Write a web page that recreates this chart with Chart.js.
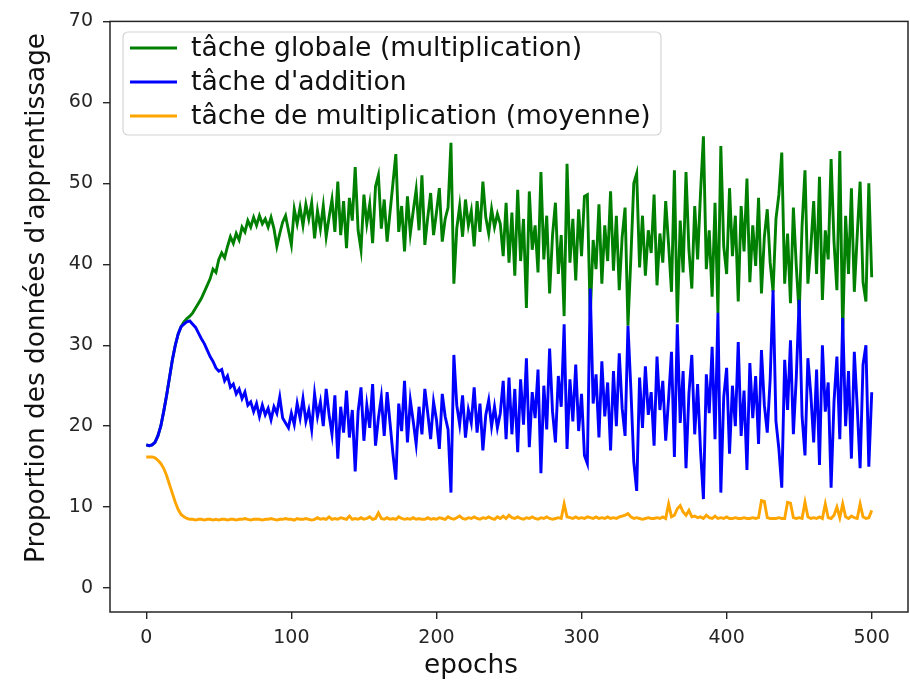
<!DOCTYPE html>
<html>
<head>
<meta charset="utf-8">
<script src="https://cdn.jsdelivr.net/npm/chart.js@4/dist/chart.umd.min.js"></script>
<style>
  html, body { margin: 0; padding: 0; background: #fff; }
  canvas { display: block; }
</style>
</head>
<body>
<canvas id="courbes" width="910" height="683"></canvas>
<script>
// une valeur toutes les 2 epochs, de 0 a 500
const EPOCH_STEP = 2;
const xTicks = [0, 100, 200, 300, 400, 500];
const yTicks = [0, 10, 20, 30, 40, 50, 60, 70];
const labels = [
  "tâche globale (multiplication)",
  "tâche d'addition",
  "tâche de multiplication (moyenne)"
];

const globale = [
  17.7, 17.6, 17.7, 18.0, 18.8, 20.0, 21.8, 23.8, 26.0, 28.2,
  30.0, 31.4, 32.3, 32.9, 33.3, 33.6, 34.0, 34.6, 35.2, 35.8,
  36.6, 37.4, 38.2, 39.4, 39.0, 40.6, 41.4, 40.8, 42.2, 43.4,
  42.6, 43.8, 43.0, 44.6, 44.0, 45.4, 44.6, 45.8, 44.8, 46.0,
  45.0, 45.6, 44.6, 45.8, 44.4, 42.2, 43.8, 45.2, 46.0, 44.2,
  42.4, 46.8, 45.0, 47.0, 44.8, 47.4, 45.6, 47.6, 43.2, 46.6,
  44.4, 47.2, 43.4, 45.8, 48.0, 44.0, 50.2, 43.6, 47.8, 42.0,
  48.2, 45.4, 52.0, 44.2, 41.8, 48.6, 45.0, 47.4, 42.6, 49.6,
  51.0, 44.4, 48.0, 42.8, 46.4, 50.0, 53.6, 44.0, 47.2, 41.6,
  48.4, 43.8, 46.6, 49.2, 44.2, 51.0, 42.4, 45.8, 48.8, 43.6,
  46.4, 49.4, 42.8, 45.6, 47.0, 55.0, 37.6, 44.4, 47.2, 43.4,
  48.0, 44.8, 46.6, 42.2, 47.8, 44.0, 50.2, 45.8, 43.8, 46.8,
  44.6, 46.2, 45.0, 41.0, 47.6, 40.2, 46.4, 38.6, 49.2, 40.4,
  45.6, 34.6, 49.0, 41.8, 44.8, 39.0, 51.4, 40.6, 46.0, 36.4,
  43.6, 47.6, 38.8, 43.6, 33.6, 52.4, 40.2, 45.6, 38.0, 46.8,
  41.0, 48.4, 48.6, 33.6, 43.0, 39.4, 47.4, 37.6, 44.8, 40.4,
  49.0, 39.2, 46.0, 36.8, 43.4, 47.0, 32.4, 40.8, 50.0, 51.2,
  39.6, 46.0, 38.6, 44.2, 41.4, 48.6, 37.4, 43.8, 40.2, 47.8,
  42.4, 36.6, 51.6, 32.8, 45.4, 39.0, 51.4, 41.8, 37.0, 47.2,
  40.6, 48.8, 55.8, 39.4, 44.2, 36.0, 47.6, 34.0, 54.6, 42.2,
  38.8, 49.4, 41.0, 46.0, 35.4, 47.2, 41.6, 50.6, 37.8, 44.8,
  39.8, 48.2, 36.4, 43.4, 46.8, 40.2, 36.6, 45.6, 48.6, 53.8,
  37.6, 43.8, 35.2, 47.0, 39.8, 33.8, 44.8, 51.6, 37.6, 42.0,
  47.8, 38.8, 50.8, 35.6, 44.2, 40.6, 53.0, 42.8, 36.8, 54.0,
  31.4, 46.0, 38.8, 49.4, 36.6, 43.6, 50.2, 37.8, 35.4, 50.0,
  38.4
];

const addition = [
  17.7, 17.6, 17.7, 18.0, 18.8, 20.0, 21.8, 23.8, 26.0, 28.2,
  30.0, 31.4, 32.3, 32.6, 32.9, 33.0, 32.6, 32.2, 31.5, 30.8,
  30.2, 29.4, 28.6, 28.0, 27.2, 26.8, 27.0, 25.6, 26.2, 24.8,
  25.2, 24.0, 24.6, 23.4, 24.2, 22.6, 23.0, 21.8, 22.8, 21.2,
  22.6, 21.4, 22.2, 20.8, 22.4, 21.6, 23.6, 21.0, 20.4, 19.8,
  21.6, 20.2, 22.8, 21.0, 23.4, 20.6, 22.0, 19.6, 24.0, 21.2,
  23.0, 20.0, 24.6, 21.4, 19.0, 23.8, 16.0, 22.4, 19.2, 24.4,
  18.6, 22.0, 14.4, 21.8, 24.8, 18.2, 22.6, 19.8, 25.2, 17.6,
  21.0, 23.6, 18.8, 24.2, 20.4, 16.6, 13.4, 22.8, 19.4, 25.6,
  18.0, 23.2, 20.6, 17.8, 22.4, 19.0, 24.6, 21.6, 18.4, 23.0,
  20.8, 17.2, 24.0, 21.2, 19.6, 11.8, 28.8, 22.6, 20.2, 23.8,
  18.6, 22.0, 20.4, 24.8, 19.2, 22.8, 17.0, 21.4, 23.2, 20.0,
  22.4, 19.8, 21.6, 25.6, 18.4, 26.0, 19.0, 24.6, 16.8, 25.8,
  20.2, 28.4, 17.4, 24.2, 21.0, 27.0, 14.2, 25.0, 19.6, 29.6,
  21.8, 18.0, 26.2, 22.4, 32.6, 17.2, 25.8, 20.6, 27.6, 19.4,
  24.0, 16.4, 15.4, 37.0, 22.8, 26.4, 18.6, 28.0, 21.2, 25.4,
  17.0, 26.8, 20.0, 29.0, 22.2, 18.8, 32.4, 24.6, 15.6, 12.0,
  26.0, 19.8, 27.4, 21.4, 24.2, 17.6, 28.6, 22.0, 25.6, 18.2,
  23.4, 29.2, 16.2, 32.6, 20.4, 26.8, 14.8, 24.0, 28.8, 19.0,
  25.2, 17.0, 11.0, 26.4, 21.6, 29.8, 18.4, 34.0, 11.8, 23.6,
  27.2, 16.6, 25.0, 20.0, 30.4, 18.8, 24.4, 14.6, 27.8, 21.0,
  26.2, 17.8, 29.4, 22.6, 19.2, 25.8, 36.8, 20.6, 17.2, 12.4,
  28.2, 22.0, 30.6, 19.0, 26.0, 35.6, 21.2, 16.4, 28.4, 24.0,
  18.0, 27.0, 15.2, 30.0, 21.8, 25.4, 12.4, 23.0, 28.6, 18.4,
  33.4, 20.0, 26.8, 16.0, 29.2, 22.4, 14.8, 27.6, 30.0, 15.0,
  24.2
];

const multMoyenne = [
  16.2, 16.2, 16.2, 16.1, 15.8, 15.4, 14.8, 13.9, 12.8, 11.7,
  10.6, 9.7, 9.1, 8.8, 8.6, 8.5, 8.5, 8.4, 8.5, 8.5,
  8.4, 8.5, 8.5, 8.4, 8.5, 8.4, 8.5, 8.5, 8.4, 8.5,
  8.5, 8.4, 8.5, 8.5, 8.6, 8.5, 8.4, 8.5, 8.5, 8.5,
  8.4, 8.5, 8.5, 8.6, 8.5, 8.4, 8.5, 8.5, 8.6, 8.5,
  8.5, 8.4, 8.6, 8.5, 8.5, 8.6, 8.5, 8.4, 8.5, 8.7,
  8.5, 8.6, 8.5, 8.8, 8.5, 8.6, 8.5, 8.7, 8.6, 8.5,
  8.9, 8.5, 8.6, 8.5, 8.7, 8.5, 8.6, 8.8, 8.5, 8.6,
  9.3, 8.6, 8.5, 8.7, 8.5, 8.6, 8.5, 8.8, 8.6, 8.5,
  8.6, 8.5, 8.7, 8.5, 8.6, 8.5, 8.5, 8.7, 8.5, 8.6,
  8.5, 8.7, 8.6, 8.5, 8.8, 8.6, 8.5, 8.7, 8.9, 8.6,
  8.5, 8.7, 8.6, 8.8, 8.6, 8.5, 8.7, 8.6, 8.8, 8.6,
  8.5, 8.8, 8.6, 8.9, 8.6, 9.0, 8.7, 8.6, 8.8, 8.6,
  8.5, 8.7, 8.6, 8.8, 8.6, 8.5, 8.7, 8.6, 8.8, 8.6,
  8.5, 8.6, 8.7, 8.6, 10.4, 8.8, 8.7, 8.6, 8.8, 8.6,
  8.7, 8.6, 8.8, 8.7, 8.6, 8.8, 8.6, 8.7, 8.6, 8.8,
  8.6, 8.7, 8.6, 8.8, 8.9, 9.0, 9.2, 8.8, 8.6, 8.7,
  8.6, 8.5, 8.6, 8.7, 8.6, 8.6, 8.7, 8.6, 8.8, 8.6,
  10.4, 8.8, 9.0, 9.8, 10.2, 9.4, 9.0, 9.6, 8.8, 8.9,
  8.7, 8.8, 8.6, 9.0, 8.7, 8.6, 8.9, 8.6, 8.7, 8.6,
  8.8, 8.6, 8.6, 8.7, 8.6, 8.6, 8.7, 8.6, 8.6, 8.7,
  8.6, 8.7, 10.8, 10.7, 8.7, 8.6, 8.6, 8.6, 8.7, 8.6,
  8.6, 10.6, 10.5, 8.7, 8.6, 8.7, 8.6, 10.6, 8.8, 8.6,
  8.7, 8.6, 8.8, 8.6, 10.4, 8.7, 8.6, 9.0, 10.0, 8.7,
  10.4, 8.8, 8.6, 8.9, 8.7, 8.6, 10.4, 8.8, 8.6, 8.7,
  9.6
];

const colors = ["#008000", "#0000ff", "#ffa500"];
const FONT = "DejaVu Sans";
const INK = "#262626";

function points(values) {
  return values.map((v, i) => ({ x: i * EPOCH_STEP, y: v }));
}

// cadre autour de la zone de tracé
const framePlugin = {
  id: "frame",
  afterDatasetsDraw(chart) {
    const { ctx, chartArea: a } = chart;
    ctx.save();
    ctx.strokeStyle = INK;
    ctx.lineWidth = 1.5;
    ctx.strokeRect(a.left, a.top, a.right - a.left, a.bottom - a.top);
    ctx.restore();
  }
};

// légende dans le coin haut gauche + titres des axes
const annotPlugin = {
  id: "annot",
  afterDraw(chart) {
    const { ctx } = chart;
    ctx.save();
    // boite de légende
    const bx = 123, by = 32, bw = 538, bh = 103, r = 5;
    ctx.beginPath();
    ctx.moveTo(bx + r, by);
    ctx.arcTo(bx + bw, by, bx + bw, by + bh, r);
    ctx.arcTo(bx + bw, by + bh, bx, by + bh, r);
    ctx.arcTo(bx, by + bh, bx, by, r);
    ctx.arcTo(bx, by, bx + bw, by, r);
    ctx.closePath();
    ctx.fillStyle = "rgba(255,255,255,0.8)";
    ctx.fill();
    ctx.strokeStyle = "#d4d4d4";
    ctx.lineWidth = 1.2;
    ctx.stroke();

    ctx.font = "26.6px '" + FONT + "'";
    ctx.textBaseline = "middle";
    ctx.textAlign = "left";
    labels.forEach((lab, i) => {
      const y = 48 + i * 34;
      ctx.strokeStyle = colors[i];
      ctx.lineWidth = 3;
      ctx.beginPath();
      ctx.moveTo(130, y);
      ctx.lineTo(177, y);
      ctx.stroke();
      ctx.fillStyle = "#111";
      ctx.fillText(lab, 191, y + 1);
    });

    // titres des axes
    ctx.font = "26.3px '" + FONT + "'";
    ctx.fillStyle = "#111";
    ctx.textAlign = "center";
    ctx.textBaseline = "alphabetic";
    ctx.fillText("epochs", 471, 673);
    ctx.translate(44, 298);
    ctx.rotate(-Math.PI / 2);
    ctx.fillText("Proportion des données d'apprentissage", 0, 0);
    ctx.restore();
  }
};

const series = [globale, addition, multMoyenne];

new Chart(document.getElementById("courbes"), {
  type: "line",
  data: {
    datasets: series.map((vals, i) => ({
      label: labels[i],
      data: points(vals),
      borderColor: colors[i],
      borderWidth: 2.9,
      pointRadius: 0,
      tension: 0,
      fill: false,
      order: 3 - i
    }))
  },
  options: {
    responsive: false,
    animation: false,
    devicePixelRatio: 1,
    layout: { padding: { top: 18, right: 2, left: 0, bottom: 0 } },
    scales: {
      x: {
        type: "linear",
        min: -25,
        max: 525,
        afterBuildTicks: (s) => { s.ticks = xTicks.map((v) => ({ value: v })); },
        afterFit: (s) => { s.height = 71; },
        ticks: {
          font: { family: FONT, size: 19 },
          color: INK,
          padding: 8,
          maxRotation: 0
        },
        grid: { drawOnChartArea: false, tickLength: 7, color: INK, lineWidth: 1.4 },
        border: { display: false }
      },
      y: {
        min: -2.95,
        max: 70,
        afterBuildTicks: (s) => { s.ticks = yTicks.map((v) => ({ value: v })); },
        afterFit: (s) => { s.width = 110; },
        ticks: {
          font: { family: FONT, size: 19 },
          color: INK,
          padding: 10
        },
        grid: { drawOnChartArea: false, tickLength: 7, color: INK, lineWidth: 1.4 },
        border: { display: false }
      }
    },
    plugins: {
      legend: { display: false },
      tooltip: { enabled: false }
    }
  },
  plugins: [framePlugin, annotPlugin]
});
</script>
</body>
</html>
